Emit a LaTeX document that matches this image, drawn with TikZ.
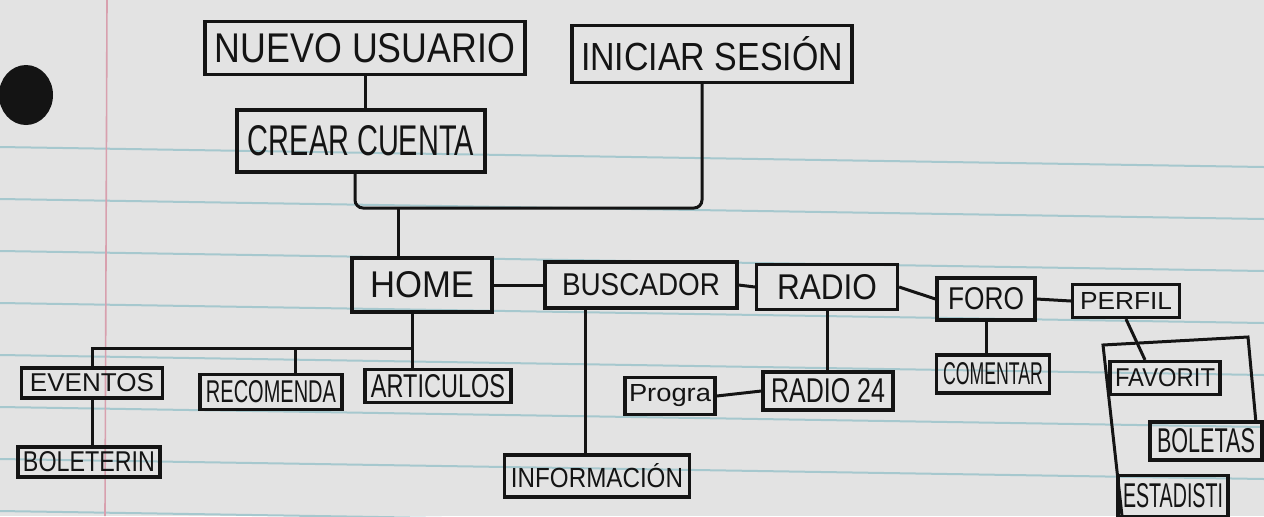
\documentclass[tikz,border=0pt]{standalone}
\usepackage{fontspec}
\setmainfont{Liberation Sans}
\usetikzlibrary{calc}
\definecolor{paper}{HTML}{E3E3E3}
\definecolor{rulecol}{HTML}{A6C8CE}
\definecolor{margincol}{HTML}{D8A0AE}
\definecolor{ink}{HTML}{141414}
\tikzset{
 box/.style={draw=ink, line width=1.6pt, inner sep=0pt, anchor=center, text=ink},
 wire/.style={draw=ink, line width=1.5pt},
}
\newcommand{\fitto}[3]{\resizebox{#1pt}{#2pt}{#3}}
\begin{document}
\begin{tikzpicture}[x=0.5pt,y=-0.5pt]
\fill[paper] (0,0) rectangle (1264,516);
\useasboundingbox (0,0) rectangle (1264,516);
\foreach \y in {147,199,251,303,355,407,459,511} \draw[rulecol, line width=1pt] (0,\y) -- (1264,\y+20);
\draw[margincol, line width=0.8pt] (107,0) -- (105,516);
\fill[ink] (26,95) ellipse [x radius=13.5pt, y radius=15pt];

\node[box, minimum width=160pt, minimum height=26.5pt] (nuevo) at (365,48) {\fitto{150}{14.5}{NUEVO USUARIO}};
\node[box, minimum width=140pt, minimum height=28.5pt] (iniciar) at (712,54) {\fitto{131}{17}{INICIAR SESIÓN}};
\node[box, minimum width=124pt, minimum height=31pt] (crear) at (361,141) {\fitto{113}{15}{CREAR CUENTA}};
\node[box, minimum width=70pt, minimum height=27pt] (home) at (422,285) {\fitto{52}{13}{HOME}};
\node[box, minimum width=96pt, minimum height=23pt] (busc) at (641,285) {\fitto{79}{11}{BUSCADOR}};
\node[box, minimum width=70.5pt, minimum height=22.5pt] (radio) at (827,287) {\fitto{50}{12.5}{RADIO}};
\node[box, minimum width=49pt, minimum height=21pt] (foro) at (986,299) {\fitto{38}{11}{FORO}};
\node[box, minimum width=53.5pt, minimum height=16.5pt] (perfil) at (1126,301) {\fitto{46}{8.5}{PERFIL}};
\node[box, minimum width=70.5pt, minimum height=15pt] (eventos) at (92,383) {\fitto{62}{9}{EVENTOS}};
\node[box, minimum width=71pt, minimum height=17.5pt] (recom) at (271,392) {\fitto{65}{11}{RECOMENDA}};
\node[box, minimum width=73pt, minimum height=16.5pt] (artic) at (438,386) {\fitto{67}{11.5}{ARTICULOS}};
\node[box, minimum width=71pt, minimum height=15pt] (bolet) at (89,462) {\fitto{66}{10}{BOLETERIN}};
\node[box, minimum width=92.5pt, minimum height=21pt] (info) at (597,476) {\fitto{86}{12}{INFORMACIÓN}};
\node[box, minimum width=65pt, minimum height=19pt] (radiova) at (828,391) {\fitto{57}{12}{RADIO 24}};
\node[box, minimum width=45pt, minimum height=18.5pt] (progra) at (670,396) {\fitto{41}{8.5}{Progra}};
\node[box, minimum width=56.5pt, minimum height=19pt] (coment) at (993,374) {\fitto{50}{11}{COMENTAR}};
\node[box, minimum width=55pt, minimum height=16.5pt] (favor) at (1165,378) {\fitto{50}{9}{FAVORIT}};
\node[box, minimum width=56pt, minimum height=19pt] (boletas) at (1206,441) {\fitto{49}{12}{BOLETAS}};
\node[box, minimum width=55pt, minimum height=20.5pt] (estad) at (1173,496) {\fitto{50}{12}{ESTADISTI}};

\draw[wire] (nuevo.south) -- (nuevo.south |- crear.north);
\coordinate (j) at (398,208);
\draw[wire, rounded corners=4pt] ($(crear.south)+(-6,0)$) |- (j) -| ($(iniciar.south)+(-10,0)$);
\draw[wire] (j) -- (j |- home.north);
\draw[wire] (home.east) -- (busc.west);
\draw[wire] (busc.east) -- (radio.west);
\draw[wire] (radio.east) -- (foro.west);
\draw[wire] (foro.east) -- (perfil.west);
\coordinate (hb) at (412,348);
\draw[wire] (hb |- home.south) -- (hb);
\draw[wire] (eventos.north) |- (hb);
\draw[wire] ($(recom.north)+(24,0)$) coordinate (rc) -- (rc |- hb);
\draw[wire] (hb) -- (hb |- artic.north);
\draw[wire] (eventos.south) -- (eventos.south |- bolet.north);
\draw[wire] ($(busc.south)+(-56,0)$) coordinate (bs) -- (bs |- info.north);
\draw[wire] (radio.south) -- (radio.south |- radiova.north);
\draw[wire] (radiova.west) -- (progra.east);
\draw[wire] (foro.south) -- (foro.south |- coment.north);
\draw[wire] (perfil.south) -- ($(favor.north)+(-20,0)$);
\draw[wire] (1122,516) -- (1103,345) -- (1248,337) -- (1256,423);
\end{tikzpicture}
\end{document}
